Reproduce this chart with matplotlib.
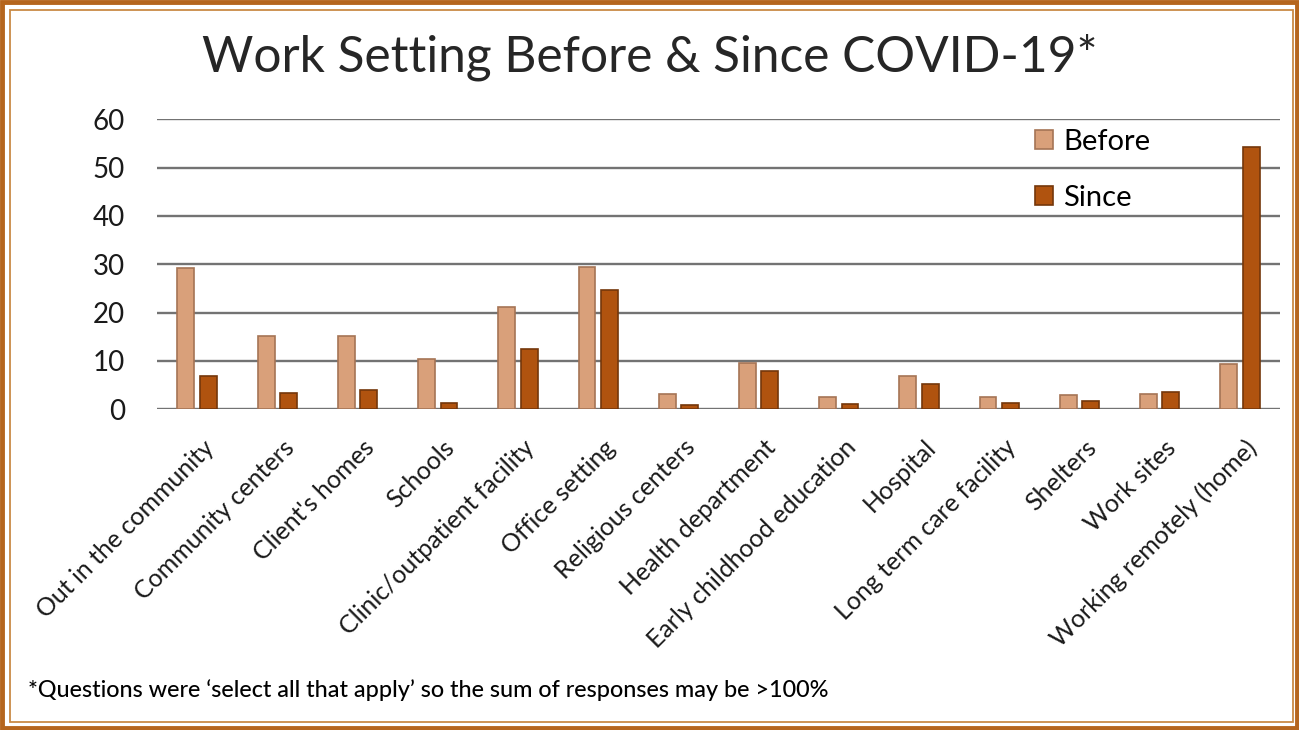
import matplotlib
matplotlib.use("Agg")
import matplotlib.pyplot as plt
from matplotlib.patches import Rectangle
import numpy as np

categories = ["Out in the community", "Community centers", "Client's homes", "Schools",
              "Clinic/outpatient facility", "Office setting", "Religious centers",
              "Health department", "Early childhood education", "Hospital",
              "Long term care facility", "Shelters", "Work sites", "Working remotely (home)"]
before = [29.3, 15.2, 15.2, 10.4, 21.2, 29.5, 3.1, 9.6, 2.6, 6.8, 2.6, 2.9, 3.25, 9.3]
since = [6.8, 3.45, 3.9, 1.4, 12.5, 24.6, 0.9, 8.0, 1.1, 5.2, 1.3, 1.7, 3.5, 54.2]
yticks = [0, 10, 20, 30, 40, 50, 60]

plt.rcParams['font.family'] = ['Lato', 'DejaVu Sans']

W, H = 1299, 730
fig = plt.figure(figsize=(W / 100, H / 100), dpi=100)
fig.patch.set_facecolor('white')

# decorative double border
fig.patches.append(Rectangle((2 / W, 2 / H), 1 - 4 / W, 1 - 4 / H, transform=fig.transFigure,
                             fill=False, edgecolor='#B5651D', linewidth=3.5))
fig.patches.append(Rectangle((10 / W, 8 / H), 1 - 16 / W, 1 - 18 / H, transform=fig.transFigure,
                             fill=False, edgecolor='#C98A45', linewidth=1.3))

ax = fig.add_axes([157 / W, 1 - 409.3 / H, (1280 - 157) / W, 290 / H])
x = np.arange(len(categories))
w = 0.21
ax.bar(x - 0.14, before, w, color='#D9A07A', edgecolor='#A57455', linewidth=1.2, label='Before', zorder=3)
ax.bar(x + 0.14, since, w, color='#B0530F', edgecolor='#74370B', linewidth=1.2, label='Since', zorder=3)

ax.set_xlim(-0.5, len(categories) - 0.5)
ax.set_ylim(0, 60)
ax.set_yticks(yticks)
ax.set_yticklabels([str(v) for v in yticks], fontsize=20, color='#1a1a1a')
ax.tick_params(axis='y', length=0, pad=23)
ax.tick_params(axis='x', length=0, pad=19)
ax.yaxis.grid(True, color='#737373', linewidth=1.7, zorder=0)
for s in ax.spines.values():
    s.set_visible(False)
ax.set_xticks(x + 0.06)
ax.set_xticklabels(categories, rotation=45, ha='right', rotation_mode='anchor', fontsize=18,
                   color='#1a1a1a')

ax.legend(loc='upper left', bbox_to_anchor=(0.782, 0.968), frameon=False, fontsize=21,
          handlelength=0.62, handleheight=0.62, labelspacing=1.03, handletextpad=0.35,
          borderpad=0, borderaxespad=0)

fig.text(0.5, 1 - 57 / H, "Work Setting Before & Since COVID-19*", ha='center', va='center',
         fontsize=35.7, color='#262626')
fig.text(28 / W, 1 - 690 / H, "*Questions were \u2018select all that apply\u2019 so the sum of responses may be >100%",
         ha='left', va='center', fontsize=16.8, color='black', fontweight='medium')

fig.savefig('out.png', dpi=100)
